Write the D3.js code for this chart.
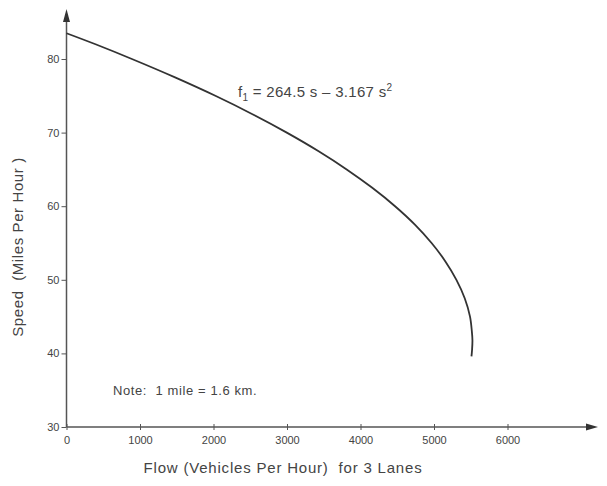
<!DOCTYPE html>
<html>
<head>
<meta charset="utf-8">
<script src="https://cdn.jsdelivr.net/npm/d3@7"></script>
<style>
  body { margin: 0; background: #fff; }
  text { font-family: "Liberation Sans", Arial, sans-serif; fill: #444; white-space: pre; }
</style>
</head>
<body>
<div class="container"></div>
<script>
// values
let speeds = [83.5, 82, 80, 77.5, 75, 72.5, 70, 67.5, 65, 62.5, 60, 57.5, 55, 52.5, 50, 47.5, 45, 43, 41.8, 40.5, 39.6]
let flows  = [0, 395, 890, 1477, 2025, 2530, 2997, 3425, 3812, 4160, 4470, 4740, 4967, 5155, 5305, 5418, 5490, 5515, 5523, 5518, 5510]
let xTicks = [0, 1000, 2000, 3000, 4000, 5000, 6000]
let yTicks = [30, 40, 50, 60, 70, 80]

let data = flows.map((f, i) => ({flow: f, speed: speeds[i]}))

let svg = d3.select('.container')
    .append('svg')
    .attr('width', 607)
    .attr('height', 486)

let x = d3.scaleLinear().domain([0, 6000]).range([66.5, 507.5])
let y = d3.scaleLinear().domain([30, 80]).range([427, 59])

let axisColor = '#555'

// x axis line with arrow
svg.append('line')
    .attr('x1', x(0)).attr('y1', y(30))
    .attr('x2', 592).attr('y2', y(30))
    .attr('stroke', axisColor).attr('stroke-width', 1.5)
svg.append('path')
    .attr('d', `M598,${y(30)} L586,${y(30) - 3.5} L586,${y(30) + 3.5} Z`)
    .attr('fill', '#333')

// y axis line with arrow
svg.append('line')
    .attr('x1', x(0)).attr('y1', y(30))
    .attr('x2', x(0)).attr('y2', 18)
    .attr('stroke', axisColor).attr('stroke-width', 1.5)
svg.append('path')
    .attr('d', `M${x(0)},9 L${x(0) - 3.5},22 L${x(0) + 3.5},22 Z`)
    .attr('fill', '#333')

let xAxis = svg.append('g')
    .attr('transform', `translate(0,${y(30)})`)
    .call(d3.axisBottom(x).tickValues(xTicks).tickSize(4).tickFormat(d3.format('d')))
xAxis.select('.domain').remove()
xAxis.selectAll('.tick line').attr('stroke', axisColor).attr('y1', -3).attr('y2', 3)
xAxis.selectAll('.tick text')
    .attr('y', 9)
    .style('font-size', '11px')
    .style('font-family', '"Liberation Sans", Arial, sans-serif')
    .attr('fill', '#444')

let yAxis = svg.append('g')
    .attr('transform', `translate(${x(0)},0)`)
    .call(d3.axisLeft(y).tickValues(yTicks).tickSize(5))
yAxis.select('.domain').remove()
yAxis.selectAll('.tick line').attr('stroke', axisColor)
yAxis.selectAll('.tick text')
    .attr('x', -7)
    .style('font-size', '11px')
    .style('font-family', '"Liberation Sans", Arial, sans-serif')
    .attr('fill', '#444')

// the curve
let line = d3.line()
    .x(d => x(d.flow))
    .y(d => y(d.speed))
    .curve(d3.curveCatmullRom.alpha(0.5))

svg.append('path')
    .datum(data)
    .attr('d', line)
    .attr('fill', 'none')
    .attr('stroke', '#333')
    .attr('stroke-width', 1.8)

// formula label
let formula = svg.append('text')
    .attr('x', 238)
    .attr('y', 97)
    .style('font-size', '15px')
    .style('letter-spacing', '0.3px')
formula.append('tspan').text('f')
formula.append('tspan').attr('dy', 4).style('font-size', '10px').text('1')
formula.append('tspan').attr('dy', -4).text(' = 264.5 s \u2013 3.167 s')
formula.append('tspan').attr('dy', -6).style('font-size', '10px').text('2')

// note
svg.append('text')
    .attr('x', 113)
    .attr('y', 395)
    .style('font-size', '13px')
    .style('letter-spacing', '0.6px')
    .text('Note:  1 mile = 1.6 km.')

// axis titles
svg.append('text')
    .attr('x', 283)
    .attr('y', 473)
    .attr('text-anchor', 'middle')
    .style('font-size', '15px')
    .style('letter-spacing', '0.8px')
    .text('Flow (Vehicles Per Hour)  for 3 Lanes')

svg.append('text')
    .attr('transform', 'translate(23,247) rotate(-90)')
    .attr('text-anchor', 'middle')
    .style('font-size', '15px')
    .style('letter-spacing', '0.6px')
    .text('Speed  (Miles Per Hour )')
</script>
</body>
</html>
